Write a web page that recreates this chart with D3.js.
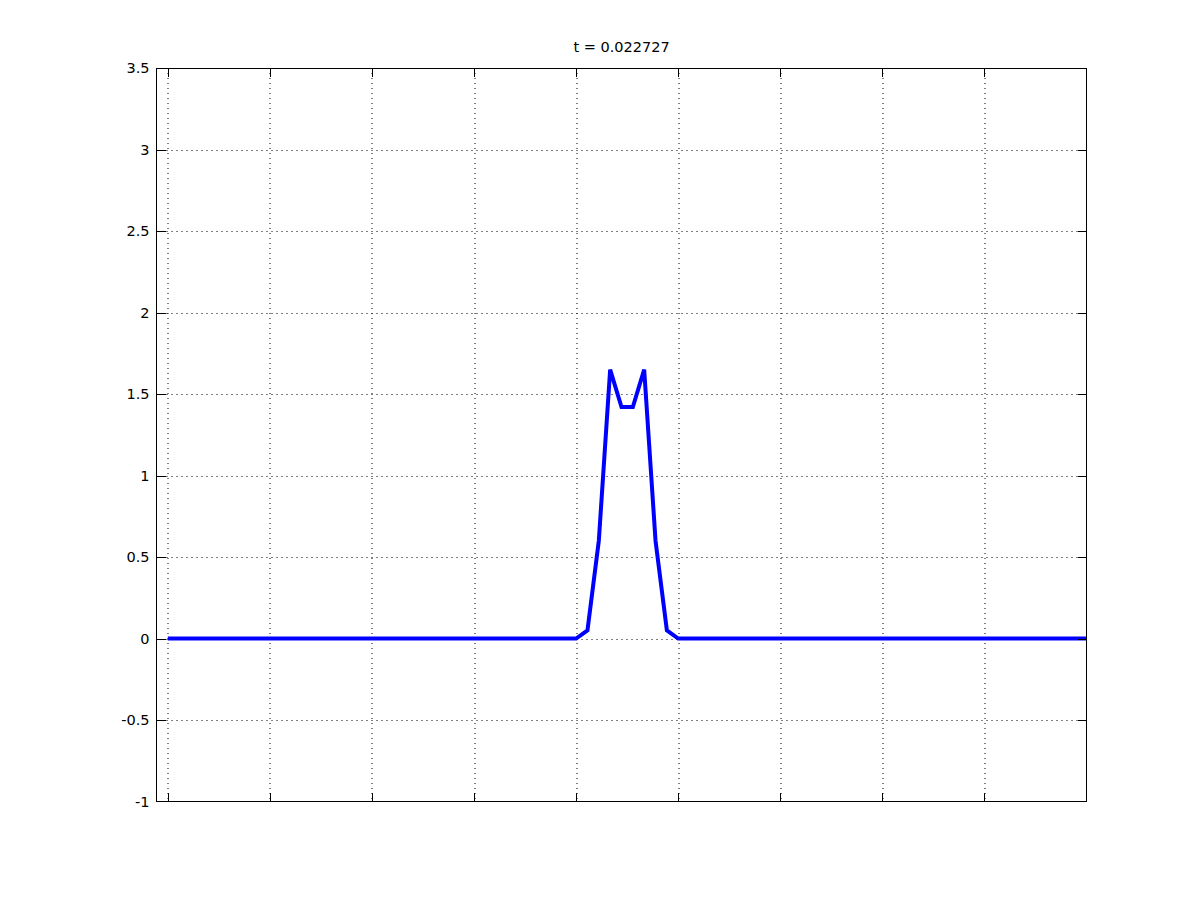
<!DOCTYPE html>
<html>
<head>
<meta charset="utf-8">
<script src="https://cdn.jsdelivr.net/npm/d3@7"></script>
<style>
  body { margin: 0; background: #fff; }
  text { font-family: "DejaVu Sans", sans-serif; font-size: 14.5px; fill: #000; }
</style>
</head>
<body>
<div id="chart"></div>
<script>
// wave profile at one time step
var titleText = "t = 0.022727";

// sample spacing is 1/90, samples run 0 .. 0.9
var yValues = [
  0, 0, 0, 0, 0, 0, 0, 0, 0, 0,
  0, 0, 0, 0, 0, 0, 0, 0, 0, 0,
  0, 0, 0, 0, 0, 0, 0, 0, 0, 0,
  0, 0, 0, 0, 0, 0, 0,
  0.05, 0.6, 1.65, 1.42, 1.42, 1.65, 0.6, 0.05,
  0, 0, 0, 0, 0, 0, 0, 0, 0, 0,
  0, 0, 0, 0, 0, 0, 0, 0, 0, 0,
  0, 0, 0, 0, 0, 0, 0, 0, 0, 0,
  0, 0, 0, 0, 0, 0, 0
];
var xValues = yValues.map(function(d, i) { return i / 90; });

var xTicks = [0, 0.1, 0.2, 0.3, 0.4, 0.5, 0.6, 0.7, 0.8];
var yTicks = [-1, -0.5, 0, 0.5, 1, 1.5, 2, 2.5, 3, 3.5];
var yTickLabels = ["-1", "-0.5", "0", "0.5", "1", "1.5", "2", "2.5", "3", "3.5"];

var svgWidth = 1200;
var svgHeight = 900;
var margin = { top: 68, left: 156.5, right: 113.5, bottom: 98.5 };
var width = svgWidth - margin.left - margin.right;
var height = svgHeight - margin.top - margin.bottom;

var svg = d3.select("#chart")
  .append("svg")
  .attr("width", svgWidth)
  .attr("height", svgHeight);

var chartGroup = svg.append("g")
  .attr("transform", `translate(${margin.left}, ${margin.top})`);

var xScale = d3.scaleLinear()
  .domain([-1 / 90, 0.9])
  .range([0, width]);
var yScale = d3.scaleLinear()
  .domain([-1, 3.5])
  .range([height, 0]);

// dotted grid
chartGroup.append("g")
  .selectAll("line")
  .data(xTicks)
  .join("line")
  .attr("x1", d => Math.round(xScale(d)) + 0.5)
  .attr("x2", d => Math.round(xScale(d)) + 0.5)
  .attr("y1", 0)
  .attr("y2", height)
  .attr("stroke", "#000")
  .attr("stroke-dasharray", "1,4");
chartGroup.append("g")
  .selectAll("line")
  .data(yTicks.slice(1, -1))
  .join("line")
  .attr("x1", 0)
  .attr("x2", width)
  .attr("y1", d => Math.round(yScale(d)) + 0.5)
  .attr("y2", d => Math.round(yScale(d)) + 0.5)
  .attr("stroke", "#000")
  .attr("stroke-dasharray", "1,4");

// the curve
var line = d3.line()
  .x((d, i) => xScale(xValues[i]))
  .y(d => yScale(d));
chartGroup.append("path")
  .datum(yValues)
  .attr("d", line)
  .attr("fill", "none")
  .attr("stroke", "#0000ff")
  .attr("stroke-width", 4);

// axes, ticks pointing inward
var tickLen = 9;
var yAxis = d3.axisLeft(yScale)
  .tickValues(yTicks)
  .tickFormat((d, i) => yTickLabels[i])
  .tickSize(-tickLen)
  .tickPadding(7);
var yAxisRight = d3.axisRight(yScale)
  .tickValues(yTicks)
  .tickFormat("")
  .tickSize(-tickLen);
var xAxis = d3.axisBottom(xScale)
  .tickValues(xTicks)
  .tickFormat("")
  .tickSize(-tickLen);
var xAxisTop = d3.axisTop(xScale)
  .tickValues(xTicks)
  .tickFormat("")
  .tickSize(-tickLen);

chartGroup.append("g").attr("class", "axis y").call(yAxis);
chartGroup.append("g").attr("class", "axis y")
  .attr("transform", `translate(${width}, 0)`).call(yAxisRight);
chartGroup.append("g").attr("class", "axis")
  .attr("transform", `translate(0, ${height})`).call(xAxis);
chartGroup.append("g").attr("class", "axis").call(xAxisTop);

chartGroup.selectAll(".axis .domain").remove();
// tick marks at the y limits sit on the box edge
chartGroup.selectAll(".axis.y .tick")
  .filter(d => d === -1 || d === 3.5)
  .select("line").remove();
chartGroup.selectAll(".axis line")
  .attr("stroke", "#000")
  .attr("shape-rendering", "crispEdges");
chartGroup.selectAll(".axis text")
  .attr("font-family", "DejaVu Sans, sans-serif")
  .attr("font-size", 14.5)
  .attr("fill", "#000");

// box
chartGroup.append("rect")
  .attr("x", 0)
  .attr("y", 0)
  .attr("width", width)
  .attr("height", height)
  .attr("fill", "none")
  .attr("stroke", "#000")
  .attr("shape-rendering", "crispEdges");

// title
chartGroup.append("text")
  .attr("x", width / 2)
  .attr("y", -16)
  .attr("text-anchor", "middle")
  .text(titleText);
</script>
</body>
</html>
